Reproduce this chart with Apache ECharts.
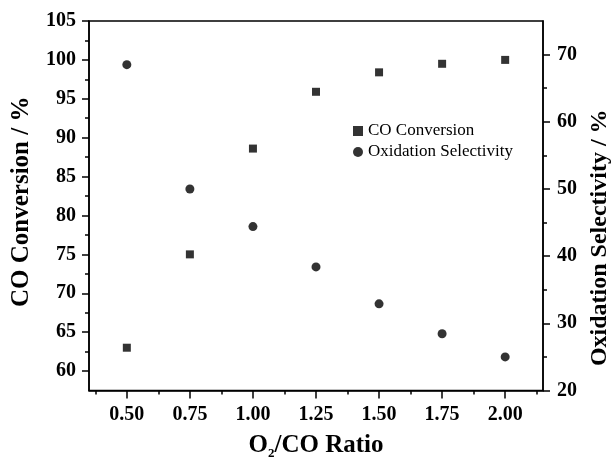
<!DOCTYPE html>
<html>
<head>
<meta charset="utf-8">
<script src="https://cdn.jsdelivr.net/npm/echarts@6/dist/echarts.min.js"></script>
<style>
  html, body { margin: 0; padding: 0; background: #fff; }
  #chart { width: 613px; height: 463px; }
</style>
</head>
<body>
<div id="chart"></div>
<script>
// O2/CO ratio values on the x axis
const ratios = [0.5, 0.75, 1.0, 1.25, 1.5, 1.75, 2.0];
// CO conversion (%), left axis
const coConversion = [63.0, 75.0, 88.6, 95.9, 98.4, 99.5, 100.0];
// Oxidation selectivity (%), right axis
const oxSelectivity = [68.5, 50.0, 44.4, 38.4, 32.9, 28.45, 25.0];

// Tick positions
const xMajor = [0.5, 0.75, 1.0, 1.25, 1.5, 1.75, 2.0];
const xMinor = [0.375, 0.625, 0.875, 1.125, 1.375, 1.625, 1.875, 2.125];
const yLeftMajor = [60, 65, 70, 75, 80, 85, 90, 95, 100, 105];
const yLeftMinor = [62.5, 67.5, 72.5, 77.5, 82.5, 87.5, 92.5, 97.5, 102.5];
const yRightMajor = [20, 30, 40, 50, 60, 70];
const yRightMinor = [25, 35, 45, 55, 65];

const FONT = '"Liberation Serif", "Times New Roman", serif';
const black = '#000';

const labelStyle = { color: black, fontFamily: FONT, fontWeight: 'bold', fontSize: 20 };
const lineStyle = { color: black, width: 1.5 };

const chart = echarts.init(document.getElementById('chart'), null, { renderer: 'canvas' });

chart.setOption({
  animation: false,
  backgroundColor: '#fff',
  grid: {
    left: 89, right: 70, top: 21, bottom: 72.5,
    outerBoundsMode: 'none', containLabel: false,
    show: true, borderColor: black, borderWidth: 1.5, backgroundColor: 'transparent'
  },
  legend: {
    orient: 'vertical',
    left: 348, top: 117,
    itemWidth: 10, itemHeight: 10, itemGap: 3,
    textStyle: { color: black, fontFamily: FONT, fontSize: 17, lineHeight: 18 },
    data: [
      { name: 'CO Conversion', icon: 'rect' },
      { name: 'Oxidation Selectivity', icon: 'circle' }
    ]
  },
  xAxis: [
    {
      type: 'value', min: 0.35, max: 2.15, position: 'bottom',
      name: '{a|O}{s|2}{a|/CO Ratio}',
      nameLocation: 'middle', nameGap: 41,
      nameTextStyle: {
        rich: {
          a: { fontFamily: FONT, fontWeight: 'bold', fontSize: 25, color: black },
          s: { fontFamily: FONT, fontWeight: 'bold', fontSize: 13, color: black, verticalAlign: 'bottom', padding: [16, 0, 0, 0] }
        }
      },
      axisLine: { show: true, onZero: false, lineStyle },
      axisTick: { show: true, inside: false, length: 8, lineStyle, customValues: xMajor },
      axisLabel: Object.assign({ margin: 14, customValues: xMajor, formatter: v => v.toFixed(2) }, labelStyle),
      splitLine: { show: false }
    },
    {
      type: 'value', min: 0.35, max: 2.15, position: 'bottom',
      axisLine: { show: false, onZero: false },
      axisTick: { show: true, length: 4, lineStyle, customValues: xMinor },
      axisLabel: { show: false },
      splitLine: { show: false }
    }
  ],
  yAxis: [
    {
      type: 'value', min: 57.5, max: 105, position: 'left',
      name: 'CO Conversion / %', nameLocation: 'middle', nameGap: 55, nameRotate: 90,
      nameTextStyle: { fontFamily: FONT, fontWeight: 'bold', fontSize: 25, color: black, padding: [0, 0, 0, 8] },
      axisLine: { show: true, onZero: false, lineStyle },
      axisTick: { show: true, length: 7, lineStyle, customValues: yLeftMajor },
      axisLabel: Object.assign({ margin: 13, customValues: yLeftMajor }, labelStyle),
      splitLine: { show: false }
    },
    {
      type: 'value', min: 20, max: 75, position: 'right',
      name: 'Oxidation Selectivity / %', nameLocation: 'middle', nameGap: 44, nameRotate: 90,
      nameTextStyle: { fontFamily: FONT, fontWeight: 'bold', fontSize: 24, color: black, padding: [0, 64, 0, 0] },
      axisLine: { show: true, onZero: false, lineStyle },
      axisTick: { show: true, length: 7, lineStyle, customValues: yRightMajor },
      axisLabel: Object.assign({ margin: 14, customValues: yRightMajor }, labelStyle),
      splitLine: { show: false }
    },
    {
      type: 'value', min: 57.5, max: 105, position: 'left',
      axisLine: { show: false, onZero: false },
      axisTick: { show: true, length: 4, lineStyle, customValues: yLeftMinor },
      axisLabel: { show: false },
      splitLine: { show: false }
    },
    {
      type: 'value', min: 20, max: 75, position: 'right',
      axisLine: { show: false, onZero: false },
      axisTick: { show: true, length: 4, lineStyle, customValues: yRightMinor },
      axisLabel: { show: false },
      splitLine: { show: false }
    }
  ],
  series: [
    {
      name: 'CO Conversion', type: 'scatter', xAxisIndex: 0, yAxisIndex: 0,
      symbol: 'rect', symbolSize: 8,
      itemStyle: { color: black },
      data: ratios.map((r, i) => [r, coConversion[i]])
    },
    {
      name: 'Oxidation Selectivity', type: 'scatter', xAxisIndex: 0, yAxisIndex: 1,
      symbol: 'circle', symbolSize: 9,
      itemStyle: { color: black },
      data: ratios.map((r, i) => [r, oxSelectivity[i]])
    }
  ]
});
</script>
</body>
</html>
